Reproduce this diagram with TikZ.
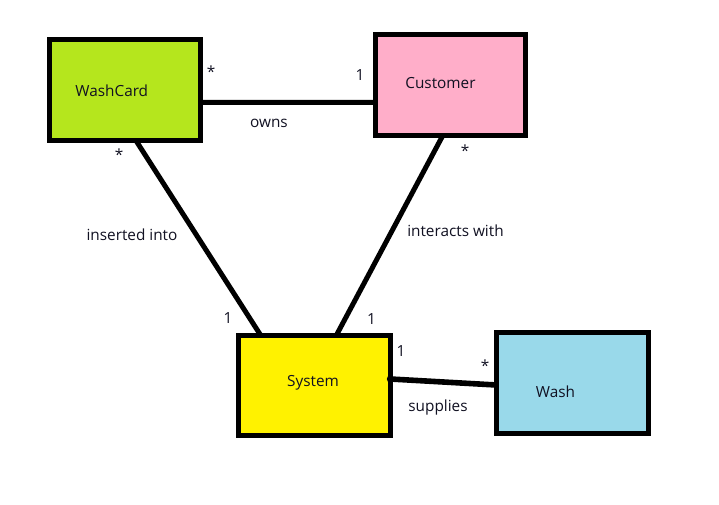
\documentclass[tikz,border=0pt]{standalone}
\usepackage{fontspec}
\setmainfont{Open Sans}
\usetikzlibrary{calc}
\definecolor{cgreen}{HTML}{B5E61D}
\definecolor{cpink}{HTML}{FFAEC9}
\definecolor{cyellow}{HTML}{FFF200}
\definecolor{cblue}{HTML}{99D9EA}
\definecolor{txt}{HTML}{111122}
\tikzset{
  cls/.style={draw=black, line width=3.75pt, inner sep=0pt, outer sep=0pt},
  conn/.style={draw=black, line width=3.75pt},
  lbl/.style={text=txt, font=\fontsize{11.5pt}{13pt}\selectfont, inner sep=0pt},
  mult/.style={text=txt, font=\fontsize{11.5pt}{13pt}\selectfont, inner sep=0pt}
}
\begin{document}
\begin{tikzpicture}[x=0.75pt,y=-0.75pt]
\path[use as bounding box, fill=white] (0,0) rectangle (719,505);
% class boxes
\node[cls, fill=cgreen, minimum width=113.5pt, minimum height=75.6pt] (wc) at (125.2,90.4) {};
\node[cls, fill=cpink, minimum width=113pt, minimum height=75.75pt] (cu) at (450.5,84.7) {};
\node[cls, fill=cyellow, minimum width=113.8pt, minimum height=75pt] (sy) at (314.4,385.8) {};
\node[cls, fill=cblue, minimum width=113.8pt, minimum height=75.75pt] (wa) at (572.4,383) {};
% class names
\node[lbl] (wct) at (111.8,91) {WashCard};
\node[lbl] (cut) at (440.5,83.3) {Customer};
\node[lbl] (syt) at (313,382.7) {System};
\node[lbl] (wat) at (555.5,391.7) {Wash};
% connectors
\coordinate (wcE) at ($(wc.north east)!0.62!(wc.south east)$);
\coordinate (cuW) at ($(cu.north west)!0.676!(cu.south west)$);
\coordinate (wcS) at ($(wc.south west)!0.572!(wc.south east)$);
\coordinate (syN1) at ($(sy.north west)!0.148!(sy.north east)$);
\coordinate (cuS) at ($(cu.south west)!0.45!(cu.south east)$);
\coordinate (syN2) at ($(sy.north west)!0.643!(sy.north east)$);
\coordinate (syE) at ($(sy.north east)!0.432!(sy.south east)$);
\coordinate (waW) at ($(wa.north west)!0.52!(wa.south west)$);
\draw[conn] (wcE) -- (cuW);
\draw[conn] (wcS) -- (syN1);
\draw[conn] (cuS) -- (syN2);
\draw[conn, line width=4.2pt] (syE) -- (waW);
\fill[black] (syE) circle (2.6pt);
% association labels
\node[lbl] (owns) at (269,123) {owns};
\node[lbl] (ins) at (132,234.5) {inserted into};
\node[lbl] (inter) at (455.5,231) {interacts with};
\node[lbl] (sup) at (438,407.3) {supplies};
% multiplicities
\node[mult] (m1) at (211,72) {*};
\node[mult] (m2) at (360,75) {1};
\node[mult] (m3) at (119,155) {*};
\node[mult] (m4) at (465,151) {*};
\node[mult] (m5) at (228,318) {1};
\node[mult] (m6) at (371.5,319) {1};
\node[mult] (m7) at (401,351) {1};
\node[mult] (m8) at (485,366) {*};
\end{tikzpicture}
\end{document}
